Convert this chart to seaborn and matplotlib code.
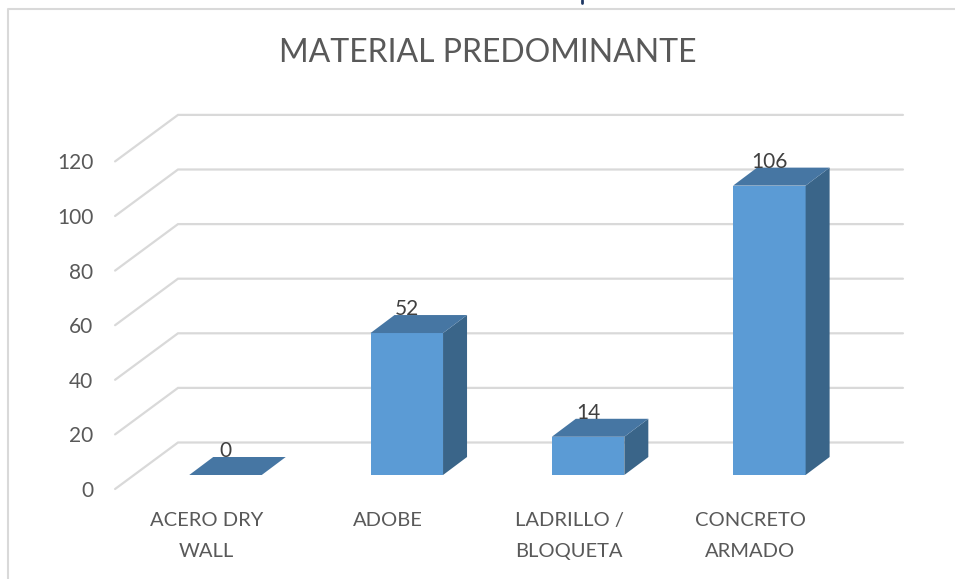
import matplotlib
matplotlib.use('Agg')
import matplotlib.pyplot as plt
import matplotlib.transforms as mtrans
from matplotlib.patches import Polygon
from matplotlib.lines import Line2D
import seaborn as sns

# Data
categories = ['ACERO DRY\nWALL', 'ADOBE', 'LADRILLO /\nBLOQUETA', 'CONCRETO\nARMADO']
values = [0, 52, 14, 106]
y_ticks = [0, 20, 40, 60, 80, 100, 120]
title = 'MATERIAL PREDOMINANTE'

W, H = 955, 579
FRONT = '#5B9BD5'
TOP = '#4676A3'
SIDE = '#3A6589'
GRID = '#D9D9D9'
TEXT = '#595959'

sns.set_theme(style='white')
plt.rcParams['font.family'] = ['Lato', 'DejaVu Sans']

fig = plt.figure(figsize=(W / 100, H / 100), dpi=100)
# axes box in pixels: y=0 on the bar feet, y=120 on top
left, right, bottom, top = 134.85, 860.0, 475.0, 147.4
ax = fig.add_axes([left / W, 1 - bottom / H, (right - left) / W, (bottom - top) / H])

sns.barplot(x=categories, y=values, color=FRONT, saturation=1, width=0.4, ax=ax, zorder=3, linewidth=0)
ax.set_xlim(-0.5, 3.5)
ax.set_ylim(0, 120)
ax.set_xlabel('')
ax.set_ylabel('')
sns.despine(ax=ax, left=True, bottom=True)

# depth of the fake 3D, in data units
px_x = 4 / (right - left)
px_y = 120 / (bottom - top)
depth_x = 24 * px_x
depth_y = 18 * px_y

# floor and wall lines
wall_x0, wall_x1 = -0.262, 3.737
front_x = -0.609
wall_lift = 32.5 * px_y
front_drop = 14 * px_y
for v in y_ticks:
    ax.plot([front_x, wall_x0, wall_x1],
            [v - front_drop, v + wall_lift, v + wall_lift],
            color=GRID, lw=1.6, clip_on=False, zorder=1, solid_joinstyle='miter')

# top and side faces from the bars seaborn drew
for bar, val in zip(ax.patches, values):
    x0 = bar.get_x()
    x1 = x0 + bar.get_width()
    h = bar.get_height()
    ax.add_patch(Polygon([(x0, h), (x1, h), (x1 + depth_x, h + depth_y), (x0 + depth_x, h + depth_y)],
                         closed=True, fc=TOP, ec='none', zorder=4, clip_on=False))
    if h > 0:
        ax.add_patch(Polygon([(x1, 0), (x1 + depth_x, depth_y), (x1 + depth_x, h + depth_y), (x1, h)],
                             closed=True, fc=SIDE, ec='none', zorder=3, clip_on=False))
    ax.annotate(str(val), (x0 + bar.get_width() / 2, h), xytext=(0, 24 * 0.72), textcoords='offset points',
                ha='center', va='center', fontsize=15, color='#404040', zorder=6, annotation_clip=False)

# tick labels sit lower / further left than the bars' plane
ax.set_yticks(y_ticks)
ax.set_yticklabels([str(v) for v in y_ticks])
ax.tick_params(axis='y', length=0, pad=30, labelsize=15, labelcolor=TEXT)
ax.tick_params(axis='x', length=0, pad=26.5, labelsize=14.5, labelcolor=TEXT)
y_shift = mtrans.ScaledTranslation(0, -14 / 100, fig.dpi_scale_trans)
x_shift = mtrans.ScaledTranslation(-19 / 100, 0, fig.dpi_scale_trans)
for lab in ax.get_yticklabels():
    lab.set_transform(lab.get_transform() + y_shift)
for lab in ax.get_xticklabels():
    lab.set_transform(lab.get_transform() + x_shift)
    lab.set_linespacing(2.0)

fig.text(488 / W, 1 - 53 / H, title, ha='center', va='center', fontsize=23, color=TEXT)

# chart frame: only top and left edges are in view
fig.add_artist(Line2D([8 / W, 8 / W, 1], [0, 1 - 9 / H, 1 - 9 / H], color=GRID, lw=1.5))
# tip of the clipped heading above the chart
fig.add_artist(Line2D([582 / W, 582 / W], [1 - 3 / H, 1], color='#1F3864', lw=2))

fig.savefig('out.png', dpi=100)
